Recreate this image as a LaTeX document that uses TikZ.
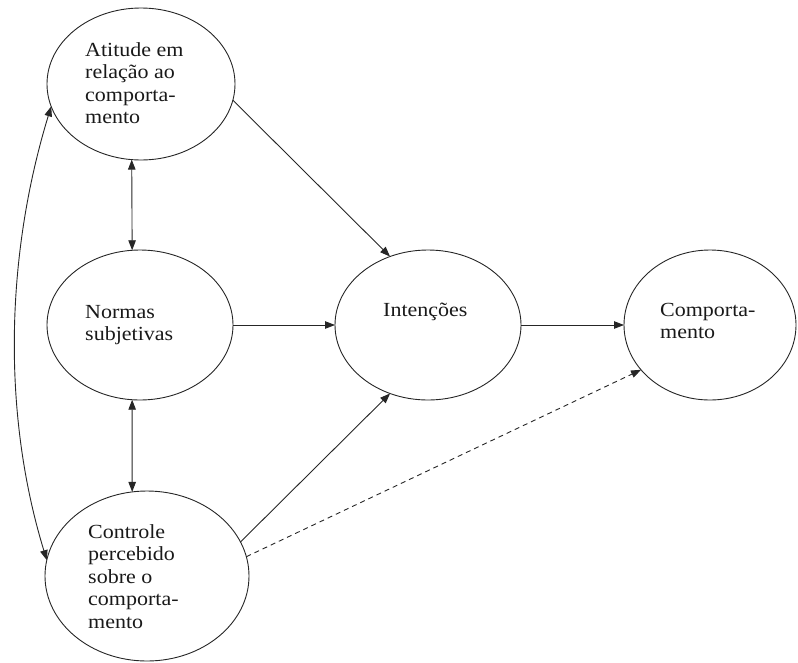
\documentclass[tikz,border=0pt]{standalone}
\usepackage{fontspec}
\setmainfont{Liberation Serif}[FakeStretch=1.1]
\usetikzlibrary{arrows.meta,shapes.geometric}
\begin{document}
\begin{tikzpicture}[x=1pt,y=1pt,
  oval/.style={draw=black!85, line width=0.9pt, ellipse, inner sep=0pt, outer sep=0pt},
  lbl/.style={anchor=north west, inner sep=0pt, align=left, font=\fontsize{20}{22.5}\selectfont, text=black!90},
  arr/.style={draw=black!85, line width=0.9pt, -{Triangle[length=10pt,width=7.5pt]}},
  darr/.style={arr, {Triangle[length=10pt,width=7.5pt]}-{Triangle[length=10pt,width=7.5pt]}},
  dsh/.style={arr, dash pattern=on 5pt off 4pt}]
\useasboundingbox (0,0) rectangle (798,-662);
% ellipses
\node[oval, minimum width=188pt, minimum height=152pt] (att) at (141,-84) {};
\node[oval, minimum width=186pt, minimum height=150pt] (nor) at (140,-325) {};
\node[oval, minimum width=204pt, minimum height=170pt] (con) at (147,-576) {};
\node[oval, minimum width=186pt, minimum height=150pt] (int) at (428,-325) {};
\node[oval, minimum width=172pt, minimum height=150pt] (com) at (710,-325) {};
% texts
\node[lbl] (tatt) at (85,-42) {Atitude em\\relação ao\\comporta-\\mento};
\node[lbl] (tnor) at (85,-305) {Normas\\subjetivas};
\node[lbl] (tcon) at (88,-524) {Controle\\percebido\\sobre o\\comporta-\\mento};
\node[lbl] (tint) at (383,-303) {Intenções};
\node[lbl] (tcom) at (660,-303) {Comporta-\\mento};
% connectors
\draw[arr] (att.-10) -- (int.119);
\draw[darr] (att.-97) -- (nor.96);
\draw[darr] (nor.-96) -- (con.100);
\draw[darr] (att.-166) to[out=-107,in=107,looseness=0.87] (con.171);
\draw[arr] (nor.east) -- (int.west);
\draw[arr] (con.20) -- (int.-119);
\draw[arr] (int.east) -- (com.west);
\draw[dsh] (con.11) -- (com.-147);
\end{tikzpicture}
\end{document}
